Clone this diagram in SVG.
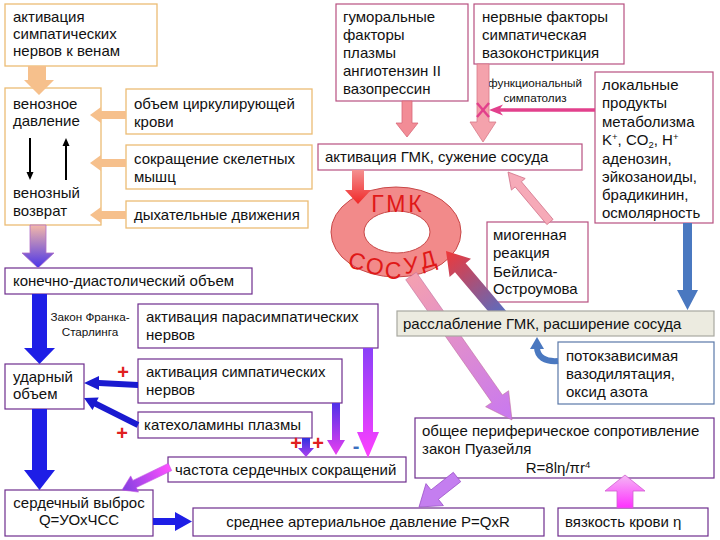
<svg xmlns="http://www.w3.org/2000/svg" width="720" height="540" viewBox="0 0 720 540">
<style>
.t{font-family:"Liberation Sans",Arial,sans-serif;font-size:15px;fill:#111}
.sm{font-size:11.7px}
.bo{fill:#fff;stroke:#ecbc74;stroke-width:1.3}
.bp{fill:#fff;stroke:#b85080;stroke-width:1.2}
.bv{fill:#fff;stroke:#6e2e8e;stroke-width:1.2}
.bg{fill:#ecebe0;stroke:#a8a8a0;stroke-width:1.2}
.bb{fill:#fff;stroke:#5a78a8;stroke-width:1.2}
.or{fill:#f6c08c}
.bl{fill:#1e1ee6}
.st{fill:#4a78c0}
.plus{font-family:"Liberation Sans",Arial,sans-serif;font-size:20px;font-weight:bold;fill:#e02020;text-anchor:middle}
.ring{font-family:"Liberation Sans",Arial,sans-serif;font-size:23px;fill:#e01818;text-anchor:middle}
</style>
<defs>
<linearGradient id="gVen" x1="0" y1="225" x2="0" y2="268" gradientUnits="userSpaceOnUse"><stop offset="0" stop-color="#f4b8a8"/><stop offset="1" stop-color="#4a34e8"/></linearGradient>
<linearGradient id="gS1" x1="0" y1="438" x2="0" y2="457" gradientUnits="userSpaceOnUse"><stop offset="0" stop-color="#3030e0"/><stop offset="1" stop-color="#b040f0"/></linearGradient>
<linearGradient id="gS2" x1="0" y1="403" x2="0" y2="455" gradientUnits="userSpaceOnUse"><stop offset="0" stop-color="#5030e8"/><stop offset="1" stop-color="#e840f0"/></linearGradient>
<linearGradient id="gS3" x1="0" y1="348" x2="0" y2="458" gradientUnits="userSpaceOnUse"><stop offset="0" stop-color="#8a40f8"/><stop offset="1" stop-color="#ff40ff"/></linearGradient>
<linearGradient id="gD" x1="170" y1="467" x2="122" y2="490" gradientUnits="userSpaceOnUse"><stop offset="0" stop-color="#ff50ff"/><stop offset="1" stop-color="#8040e0"/></linearGradient>
<linearGradient id="gT" x1="0" y1="508" x2="0" y2="475" gradientUnits="userSpaceOnUse"><stop offset="0" stop-color="#ff30ff"/><stop offset="1" stop-color="#f4b8f4"/></linearGradient>
<linearGradient id="gA" x1="411" y1="276" x2="512" y2="420" gradientUnits="userSpaceOnUse"><stop offset="0" stop-color="#f4a0b0"/><stop offset="1" stop-color="#c878f0"/></linearGradient>
<linearGradient id="gB" x1="497" y1="318" x2="446" y2="251" gradientUnits="userSpaceOnUse"><stop offset="0" stop-color="#5a6cc0"/><stop offset="1" stop-color="#f03838"/></linearGradient>
<linearGradient id="gK" x1="0" y1="170" x2="0" y2="204" gradientUnits="userSpaceOnUse"><stop offset="0" stop-color="#f49090"/><stop offset="1" stop-color="#f02828"/></linearGradient>
</defs>
<rect width="720" height="540" fill="#fff"/>

<g id="n-symp-veins"><rect class="bo" x="5" y="4" width="152" height="62"/><text class="t" x="13" y="22">активация</text><text class="t" x="13" y="39">симпатических</text><text class="t" x="13" y="56">нервов к венам</text></g>
<g id="n-venous"><rect class="bo" x="5" y="88" width="96" height="137"/><text class="t" x="13" y="109">венозное</text><text class="t" x="13" y="126">давление</text><text class="t" x="13" y="198">венозный</text><text class="t" x="13" y="216">возврат</text></g>
<g id="n-volume"><rect class="bo" x="126" y="89" width="186" height="45"/><text class="t" x="134" y="109">объем циркулирующей</text><text class="t" x="134" y="127">крови</text></g>
<g id="n-muscle"><rect class="bo" x="126" y="145" width="186" height="44"/><text class="t" x="134" y="164">сокращение скелетных</text><text class="t" x="134" y="182">мышц</text></g>
<g id="n-breath"><rect class="bo" x="126" y="201" width="182" height="27"/><text class="t" x="134" y="220">дыхательные движения</text></g>
<g id="n-humoral"><rect class="bp" x="336" y="4" width="132" height="97"/><text class="t" x="343" y="22">гуморальные</text><text class="t" x="343" y="40">факторы</text><text class="t" x="343" y="58">плазмы</text><text class="t" x="343" y="76">ангиотензин II</text><text class="t" x="343" y="94">вазопрессин</text></g>
<g id="n-nervous"><rect class="bp" x="474" y="4" width="150" height="60"/><text class="t" x="482" y="22">нервные факторы</text><text class="t" x="482" y="40">симпатическая</text><text class="t" x="482" y="58">вазоконстрикция</text></g>
<g id="n-local"><rect class="bp" x="595" y="72" width="118" height="151"/><text class="t" x="602" y="90">локальные</text><text class="t" x="602" y="108">продукты</text><text class="t" x="602" y="127">метаболизма</text><text class="t" x="602" y="145">K<tspan font-size="9.5" dy="-5">+</tspan><tspan dy="5">, CO</tspan><tspan font-size="9.5" dy="3">2</tspan><tspan dy="-3">, H</tspan><tspan font-size="9.5" dy="-5">+</tspan></text><text class="t" x="602" y="164">аденозин,</text><text class="t" x="602" y="182">эйкозаноиды,</text><text class="t" x="602" y="200">брадикинин,</text><text class="t" x="602" y="218">осмолярность</text></g>
<g id="n-label-sympatholysis"><text class="t sm" x="535" y="87" text-anchor="middle">функциональный</text><text class="t sm" x="535" y="102" text-anchor="middle">симпатолиз</text></g>
<g id="n-smc-act"><rect class="bp" x="318" y="144" width="264" height="26"/><text class="t" x="325" y="162">активация ГМК, сужение сосуда</text></g>
<g id="n-ring"><path d="M331,232 a65,45 0 1,0 130,0 a65,45 0 1,0 -130,0 Z M364,232 a33,21 0 1,0 66,0 a33,21 0 1,0 -66,0 Z" fill="#f28a8a" fill-rule="evenodd" stroke="#c84848" stroke-width="1"/>
<text class="ring" x="398" y="212" letter-spacing="3">ГМК</text>
<text class="ring" x="355" y="269" transform="rotate(14 355 269)">С</text>
<text class="ring" x="374" y="274" transform="rotate(7 374 274)">О</text>
<text class="ring" x="393" y="279">С</text>
<text class="ring" x="412" y="273" transform="rotate(-8 412 273)">У</text>
<text class="ring" x="430" y="267" transform="rotate(-16 430 267)">Д</text></g>
<g id="n-myogenic"><rect class="bp" x="487" y="222" width="101" height="80"/><text class="t" x="493" y="240">миогенная</text><text class="t" x="493" y="258">реакция</text><text class="t" x="493" y="277">Бейлиса-</text><text class="t" x="493" y="294">Остроумова</text></g>
<g id="n-flow"><rect class="bb" x="558" y="342" width="156" height="62"/><text class="t" x="566" y="361">потокзависимая</text><text class="t" x="566" y="379">вазодилятация,</text><text class="t" x="566" y="397">оксид азота</text></g>
<g id="n-edv"><rect class="bv" x="5" y="268" width="247" height="26"/><text class="t" x="13" y="286">конечно-диастолический объем</text></g>
<g id="n-frank"><text class="t sm" x="90" y="321" text-anchor="middle">Закон Франка-</text><text class="t sm" x="90" y="336" text-anchor="middle">Старлинга</text></g>
<g id="n-para"><rect class="bv" x="138" y="304" width="240" height="44"/><text class="t" x="146" y="322">активация парасимпатических</text><text class="t" x="146" y="340">нервов</text></g>
<g id="n-sv"><rect class="bv" x="5" y="364" width="79" height="45"/><text class="t" x="13" y="382">ударный</text><text class="t" x="13" y="399">объем</text></g>
<g id="n-symp"><rect class="bv" x="138" y="359" width="204" height="44"/><text class="t" x="146" y="377">активация симпатических</text><text class="t" x="146" y="395">нервов</text></g>
<g id="n-cat"><rect class="bv" x="138" y="412" width="174" height="26"/><text class="t" x="144" y="430">катехоламины плазмы</text></g>
<g id="n-hr"><rect class="bv" x="168" y="457" width="238" height="25"/><text class="t" x="175" y="475">частота сердечных сокращений</text></g>
<g id="n-co"><rect class="bv" x="5" y="490" width="148" height="46"/><text class="t" x="79" y="508" text-anchor="middle">сердечный выброс</text><text class="t" x="79" y="525" text-anchor="middle">Q=УОхЧСС</text></g>
<g id="n-map"><rect class="bv" x="193" y="508" width="351" height="28"/><text class="t" x="368" y="527" text-anchor="middle">среднее артериальное давление P=QxR</text></g>
<g id="n-visc"><rect class="bv" x="558" y="508" width="150" height="28"/><text class="t" x="565" y="527">вязкость крови η</text></g>
<g id="n-tpr"><rect class="bv" x="415" y="418" width="299" height="60"/><text class="t" x="422" y="436">общее периферическое сопротивление</text><text class="t" x="422" y="454">закон Пуазейля</text><text class="t" x="558" y="473" text-anchor="middle">R=8lη/πr<tspan font-size="9.5" dy="-5">4</tspan></text></g>

<g id="connectors">
<polygon class="or" points="28,66 46,66 46,80 54,80 39,95 24,80 28,80"/>
<polygon class="or" points="126,111 101,111 101,107 90,115 101,123 101,119 126,119"/>
<polygon class="or" points="126,159 101,159 101,155 90,163 101,171 101,167 126,167"/>
<polygon class="or" points="126,211 101,211 101,207 90,215 101,223 101,219 126,219"/>
<line x1="30" y1="138" x2="30" y2="173" stroke="#000" stroke-width="2"/><polygon points="26.5,172 33.5,172 30,180" fill="#000"/>
<line x1="66" y1="180" x2="66" y2="145" stroke="#000" stroke-width="2"/><polygon points="62.5,146 69.5,146 66,138" fill="#000"/>
<polygon points="30,225 46,225 46,253 54,253 38,268 22,253 30,253" fill="url(#gVen)" stroke="#b070c8" stroke-width="0.8"/>
<polygon class="bl" points="32,294 47,294 47,348 55,348 39.5,364 24,348 32,348"/>
<polygon class="bl" points="32,409 47,409 47,470 55,470 39.5,490 24,470 32,470"/>
<polygon points="138,382 99,380 99,376 84,383 99,390 99,386 138,388" fill="#1a1ad0"/>
<polygon points="139.3,422.3 96.9,401.1 98.7,397.5 84,398 92.5,410.1 94.3,406.5 136.7,427.7" fill="#1a1ad0"/>
<polygon class="bl" points="153,518 175,518 175,512 192,521.5 175,531 175,525 153,525"/>
<polygon points="302,438 310,438 310,448 314,448 306,457 298,448 302,448" fill="url(#gS1)"/>
<polygon points="332,403 340,403 340,440 345,440 336,455 327,440 332,440" fill="url(#gS2)"/>
<polygon points="363,348 373,348 373,432 379,432 368,458 357,432 363,432" fill="url(#gS3)"/>
<polygon points="168.3,463.4 132.9,480.4 130.7,475.9 122,490 138.5,492.1 136.3,487.6 171.7,470.6" fill="url(#gD)" stroke="#c050e0" stroke-width="0.6"/>
<polygon points="453.3,472.3 431,489.9 426,483.6 419,507 443.4,505.6 438.4,499.3 460.7,481.7" fill="#c47ef0" stroke="#9a50c8" stroke-width="0.8"/>
<polygon points="617,508 633,508 633,491 645,491 625,475 605,491 617,491" fill="url(#gT)" stroke="#d060d0" stroke-width="0.8"/>
<polygon points="405.7,279.7 491.8,402.4 485.6,406.7 512,420 508.6,390.7 502.4,395 416.3,272.3" fill="url(#gA)" stroke="#c070a0" stroke-width="0.6"/>
<polygon points="511.2,317 465.6,263.3 471,258.7 446,251 449.6,276.9 455,272.3 493,317" fill="url(#gB)"/>
<polygon points="553.1,219.4 521.4,181.7 525.2,178.5 508,172 511.4,190.1 515.2,186.9 546.9,224.6" fill="#f6aab8" stroke="#d07088" stroke-width="0.8"/>
<polygon points="402,101 412,101 412,123 418,123 407,137 396,123 402,123" fill="#f28c96" stroke="#d86878" stroke-width="0.8"/>
<polygon points="477,64 489,64 489,122 496,122 483,142 470,122 477,122" fill="#f4a2ac" stroke="#d87888" stroke-width="0.8"/>
<polygon points="352,170 364,170 364,190 371,190 358,204 345,190 352,190" fill="url(#gK)"/>
<polygon class="st" points="683,223 692,223 692,290 698,290 687.5,310 677,290 683,290"/>
<line x1="595" y1="110" x2="494" y2="110" stroke="#e2408c" stroke-width="3.5"/>
<polygon points="489,110 503,104.5 499,110 503,115.5" fill="#e2408c"/>
<line x1="477" y1="103" x2="489" y2="117" stroke="#e2408c" stroke-width="2.5"/><line x1="489" y1="103" x2="477" y2="117" stroke="#e2408c" stroke-width="2.5"/>
<path d="M558,361 C545,362 537,357 537,347" fill="none" stroke="#4a78c0" stroke-width="6"/>
<polygon class="st" points="530,349 537,337 544,349"/>
<text class="plus" x="123" y="379">+</text>
<text class="plus" x="122" y="440">+</text>
<text class="plus" x="296" y="450">+</text>
<text class="plus" x="318" y="450">+</text>
<text class="plus" x="356" y="453" style="fill:#3a70c0">-</text>
</g>

<g id="n-relax"><rect class="bg" x="397" y="311" width="317" height="25"/><text class="t" x="403" y="329">расслабление ГМК, расширение сосуда</text></g>
</svg>
